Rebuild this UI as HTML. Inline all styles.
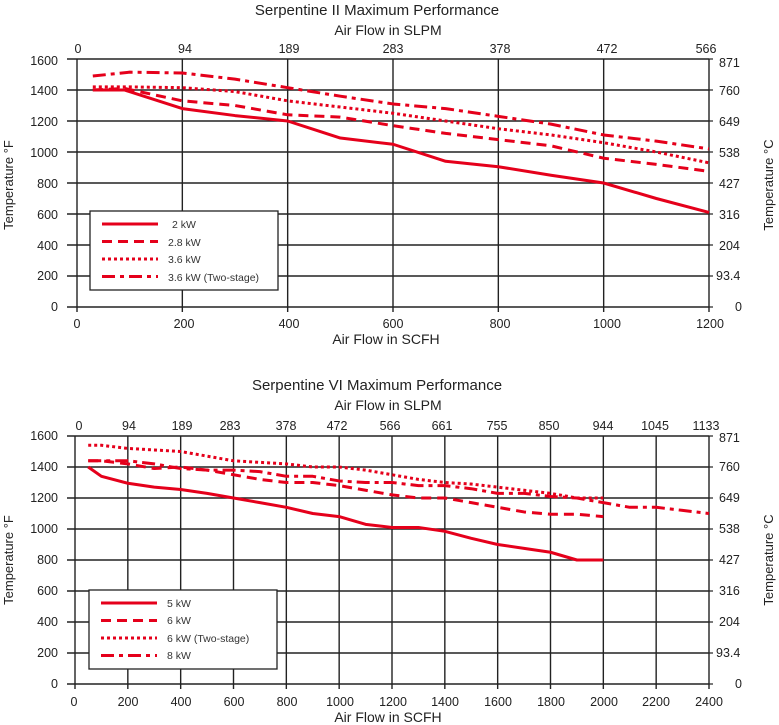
<!DOCTYPE html>
<html><head><meta charset="utf-8"><style>
body{margin:0;background:#fff}
svg{display:block;font-family:"Liberation Sans",sans-serif;fill:#222}
</style></head><body>
<svg id="s" width="779" height="725" viewBox="0 0 779 725">
<g id="g"></g>
<g font-size="15" text-anchor="middle">
<text x="377" y="15">Serpentine II Maximum Performance</text>
<text x="388" y="35" font-size="14">Air Flow in SLPM</text>
<text x="386" y="344" font-size="14">Air Flow in SCFH</text>
<text x="377" y="390">Serpentine VI Maximum Performance</text>
<text x="388" y="410" font-size="14">Air Flow in SLPM</text>
<text x="388" y="722" font-size="14">Air Flow in SCFH</text>
</g>
<g font-size="13" text-anchor="middle">
<text transform="translate(13,185) rotate(-90)">Temperature °F</text>
<text transform="translate(773,185) rotate(-90)">Temperature °C</text>
<text transform="translate(13,560) rotate(-90)">Temperature °F</text>
<text transform="translate(773,560) rotate(-90)">Temperature °C</text>
</g>
<g font-size="12.5" text-anchor="end">
<text x="58" y="65">1600</text><text x="58" y="95">1400</text><text x="58" y="126">1200</text><text x="58" y="157">1000</text><text x="58" y="188">800</text><text x="58" y="219">600</text><text x="58" y="250">400</text><text x="58" y="280">200</text><text x="58" y="311">0</text>
<text x="58" y="440">1600</text><text x="58" y="471">1400</text><text x="58" y="502">1200</text><text x="58" y="533">1000</text><text x="58" y="564">800</text><text x="58" y="595">600</text><text x="58" y="626">400</text><text x="58" y="657">200</text><text x="58" y="688">0</text>
</g>
<g font-size="12.5" text-anchor="start">
<text x="719" y="67">871</text><text x="719" y="95">760</text><text x="719" y="126">649</text><text x="719" y="157">538</text><text x="719" y="188">427</text><text x="719" y="219">316</text><text x="719" y="250">204</text><text x="716" y="280">93.4</text><text x="735" y="311">0</text>
<text x="719" y="442">871</text><text x="719" y="471">760</text><text x="719" y="502">649</text><text x="719" y="533">538</text><text x="719" y="564">427</text><text x="719" y="595">316</text><text x="719" y="626">204</text><text x="716" y="657">93.4</text><text x="735" y="688">0</text>
</g>
<g font-size="12.5" text-anchor="middle">
<text x="78" y="53">0</text><text x="185" y="53">94</text><text x="289" y="53">189</text><text x="393" y="53">283</text><text x="500" y="53">378</text><text x="607" y="53">472</text><text x="706" y="53">566</text>
<text x="77" y="328">0</text><text x="184" y="328">200</text><text x="289" y="328">400</text><text x="393" y="328">600</text><text x="500" y="328">800</text><text x="607" y="328">1000</text><text x="710" y="328">1200</text>
<text x="79" y="430">0</text><text x="129" y="430">94</text><text x="182" y="430">189</text><text x="230" y="430">283</text><text x="286" y="430">378</text><text x="337" y="430">472</text><text x="390" y="430">566</text><text x="442" y="430">661</text><text x="497" y="430">755</text><text x="549" y="430">850</text><text x="603" y="430">944</text><text x="655" y="430">1045</text><text x="706" y="430">1133</text>
<text x="74" y="706">0</text><text x="128" y="706">200</text><text x="181" y="706">400</text><text x="234" y="706">600</text><text x="287" y="706">800</text><text x="340" y="706">1000</text><text x="393" y="706">1200</text><text x="445" y="706">1400</text><text x="498" y="706">1600</text><text x="551" y="706">1800</text><text x="604" y="706">2000</text><text x="656" y="706">2200</text><text x="709" y="706">2400</text>
</g>
<g font-size="10.5" fill="#333">
<text x="172" y="228">2 kW</text><text x="168" y="246">2.8 kW</text><text x="168" y="263">3.6 kW</text><text x="168" y="281">3.6 kW (Two-stage)</text>
<text x="167" y="607">5 kW</text><text x="167" y="624">6 kW</text><text x="167" y="642">6 kW (Two-stage)</text><text x="167" y="659">8 kW</text>
</g>
</svg>
<script>
var g=document.getElementById('g'),NS='http://www.w3.org/2000/svg';
function el(t,a){var e=document.createElementNS(NS,t);for(var k in a)e.setAttribute(k,a[k]);g.appendChild(e);return e;}
var R='#e5001b',D={s:'',d:'10,6',o:'3,3',c:'13,5,4,5'};
function chart(x0,x1,xmax,xstep,yt,yb,series,lg){
 var sx=function(v){return x0+v*(x1-x0)/xmax},sy=function(v){return yb-v*(yb-yt)/1600};
 for(var v=0;v<=1600;v+=200)el('line',{x1:67,x2:x1,y1:sy(v),y2:sy(v),stroke:'#222','stroke-width':1.4});
 for(var v=0;v<=xmax;v+=xstep)el('line',{x1:sx(v),x2:sx(v),y1:yt,y2:yb+5,stroke:'#222','stroke-width':1.4});
 for(var v=0;v<=1600;v+=200)el('line',{x1:x1,x2:x1+4,y1:sy(v),y2:sy(v),stroke:'#222','stroke-width':1.2});
 el('rect',{x:lg[0],y:lg[1],width:188,height:79,fill:'#fff',stroke:'#222','stroke-width':1.3});
 series.forEach(function(s,i){
  el('polyline',{points:s[1].map(function(p){return sx(p[0])+','+sy(p[1])}).join(' '),fill:'none',stroke:R,'stroke-width':3,'stroke-dasharray':D[s[0]],'stroke-linejoin':'round'});
  var y=lg[1]+13+i*17.5;
  el('line',{x1:lg[0]+12,x2:lg[0]+68,y1:y,y2:y,stroke:R,'stroke-width':3,'stroke-dasharray':D[s[0]]});
 });
}
chart(77,709,1200,200,59,307,[
['s',[[30,1400],[90,1400],[200,1280],[300,1235],[400,1200],[500,1090],[600,1050],[700,940],[800,905],[900,850],[1000,800],[1100,700],[1200,610]]],
['d',[[30,1400],[90,1410],[200,1330],[300,1300],[400,1240],[500,1225],[600,1170],[700,1120],[800,1080],[900,1040],[1000,960],[1100,920],[1200,875]]],
['o',[[30,1420],[100,1420],[200,1415],[300,1390],[400,1330],[500,1290],[600,1250],[700,1200],[800,1150],[900,1110],[1000,1060],[1100,1000],[1200,930]]],
['c',[[30,1490],[100,1515],[200,1510],[300,1470],[400,1415],[500,1360],[600,1310],[700,1280],[800,1230],[900,1180],[1000,1110],[1100,1070],[1200,1020]]]
],[90,211]);
chart(75,709,2400,200,436,684,[
['s',[[50,1400],[100,1340],[200,1295],[300,1270],[400,1255],[500,1230],[600,1200],[700,1170],[800,1140],[900,1100],[1000,1080],[1100,1030],[1200,1010],[1300,1010],[1400,985],[1500,940],[1600,900],[1700,875],[1800,850],[1900,800],[2000,800]]],
['d',[[50,1440],[100,1440],[200,1420],[300,1390],[400,1400],[500,1380],[600,1350],[700,1320],[800,1300],[900,1300],[1000,1280],[1100,1250],[1200,1220],[1300,1200],[1400,1200],[1500,1170],[1600,1140],[1700,1110],[1800,1095],[1900,1095],[2000,1080]]],
['o',[[50,1540],[100,1540],[200,1520],[300,1510],[400,1500],[500,1470],[600,1440],[700,1430],[800,1420],[900,1400],[1000,1400],[1100,1380],[1200,1350],[1300,1320],[1400,1300],[1500,1290],[1600,1270],[1700,1250],[1800,1230],[1900,1200],[2000,1200]]],
['c',[[50,1440],[100,1440],[200,1440],[300,1420],[400,1390],[500,1380],[600,1380],[700,1370],[800,1340],[900,1340],[1000,1310],[1100,1300],[1200,1300],[1300,1280],[1400,1280],[1500,1260],[1600,1230],[1700,1230],[1800,1210],[1900,1200],[2000,1170],[2100,1140],[2200,1140],[2300,1120],[2400,1100]]]
],[89,590]);
</script>
</body></html>
